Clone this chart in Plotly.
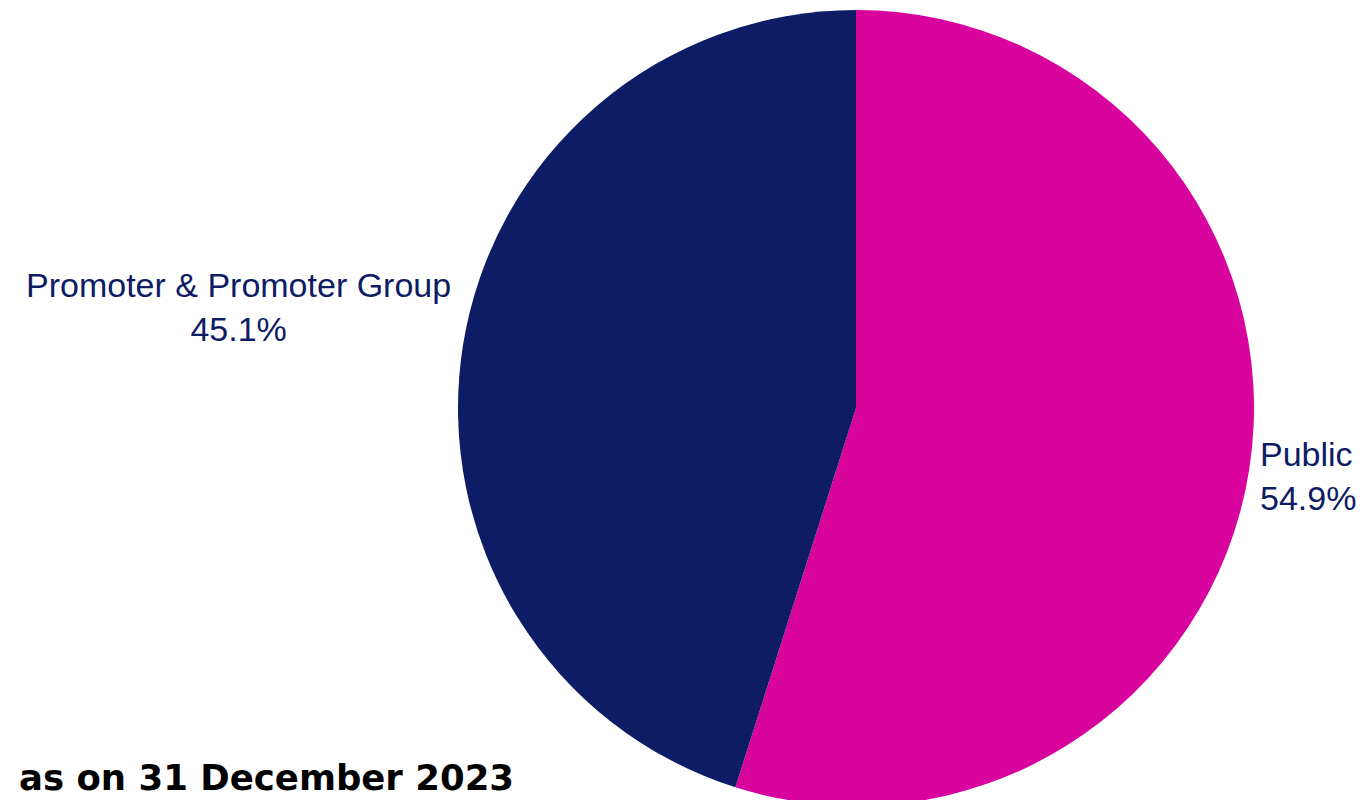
import plotly.graph_objects as go

# Shareholding pattern
categories = ["Public", "Promoter & Promoter Group"]
shares_pct = [54.9, 45.1]
slice_colors = ["#D9039E", "#0D1C64"]
caption = "as on 31 December 2023"

W, H = 1360, 806

fig = go.Figure(
    go.Pie(
        labels=categories,
        values=shares_pct,
        sort=False,
        direction="clockwise",
        rotation=0,
        marker=dict(colors=slice_colors, line=dict(width=0)),
        textinfo="none",
        hoverinfo="label+percent",
        domain=dict(x=[458 / W, 1254 / W], y=[0, 1 - 10 / H]),
        showlegend=False,
    )
)

label_font = dict(family="Liberation Sans, Arial, sans-serif", size=34, color="#0D1C64")

# Slice labels placed beside the pie
fig.add_annotation(
    x=1258 / W, y=1 - 476 / H, xref="paper", yref="paper",
    xanchor="left", yanchor="middle", align="left", showarrow=False,
    text=f"{categories[0]}<br>{shares_pct[0]}%", font=label_font,
)
fig.add_annotation(
    x=239 / W, y=1 - 307 / H, xref="paper", yref="paper",
    xanchor="center", yanchor="middle", align="center", showarrow=False,
    text=f"{categories[1]}<br>{shares_pct[1]}%", font=label_font,
)

fig.add_annotation(
    x=17 / W, y=1 - 777 / H, xref="paper", yref="paper",
    xanchor="left", yanchor="middle", showarrow=False,
    text=caption,
    font=dict(family="DejaVu Sans, sans-serif", size=35.5, color="#000000", weight="bold"),
)

fig.update_layout(
    width=W, height=H,
    margin=dict(l=0, r=0, t=0, b=0),
    paper_bgcolor="white", plot_bgcolor="white",
)

fig.write_html("out.html")
